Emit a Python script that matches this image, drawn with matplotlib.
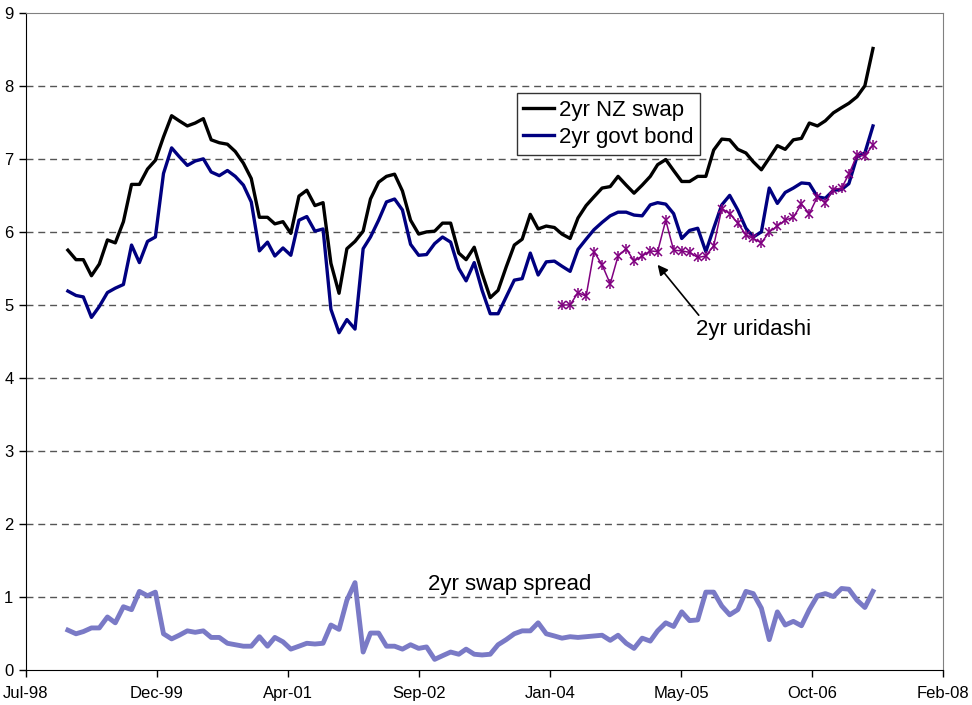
import datetime as dt

import matplotlib.dates as mdates
import matplotlib.pyplot as plt
import numpy as np

plt.rcParams["font.family"] = ["Liberation Sans", "DejaVu Sans"]

# month-end observations, Dec-98 .. May-07
DATES = (np.arange("1999-01", "2007-07", dtype="datetime64[M]").astype("datetime64[D]")
         - np.timedelta64(1, "D")).astype(dt.datetime)

SWAP = [5.75, 5.62, 5.62, 5.40, 5.56, 5.89, 5.85, 6.14, 6.65, 6.65,
        6.86, 6.98, 7.30, 7.59, 7.52, 7.45, 7.49, 7.55, 7.26, 7.22,
        7.20, 7.10, 6.94, 6.73, 6.20, 6.20, 6.11, 6.14, 5.98, 6.49,
        6.57, 6.36, 6.40, 5.57, 5.16, 5.77, 5.87, 6.01, 6.45, 6.68,
        6.76, 6.79, 6.56, 6.16, 5.97, 6.00, 6.01, 6.12, 6.12, 5.71,
        5.62, 5.79, 5.43, 5.10, 5.20, 5.52, 5.82, 5.90, 6.24, 6.04,
        6.08, 6.06, 5.97, 5.91, 6.19, 6.36, 6.48, 6.60, 6.62, 6.76,
        6.64, 6.53, 6.64, 6.76, 6.92, 6.99, 6.84, 6.69, 6.69, 6.76,
        6.76, 7.12, 7.27, 7.26, 7.13, 7.08, 6.96, 6.85, 7.01, 7.18,
        7.13, 7.26, 7.28, 7.49, 7.45, 7.52, 7.63, 7.70, 7.76, 7.85,
        8.00, 8.51]

GOVT = [5.19, 5.13, 5.11, 4.83, 4.98, 5.17, 5.23, 5.28, 5.82, 5.58,
        5.87, 5.93, 6.80, 7.15, 7.03, 6.91, 6.97, 7.00, 6.82, 6.77,
        6.84, 6.76, 6.64, 6.41, 5.74, 5.86, 5.67, 5.78, 5.68, 6.16,
        6.21, 6.01, 6.04, 4.94, 4.62, 4.80, 4.67, 5.77, 5.93, 6.16,
        6.41, 6.45, 6.30, 5.83, 5.68, 5.69, 5.84, 5.93, 5.86, 5.50,
        5.33, 5.58, 5.20, 4.88, 4.88, 5.11, 5.34, 5.36, 5.71, 5.41,
        5.59, 5.60, 5.53, 5.46, 5.76, 5.90, 6.03, 6.13, 6.22, 6.27,
        6.27, 6.23, 6.22, 6.37, 6.40, 6.38, 6.25, 5.91, 6.02, 6.05,
        5.73, 6.05, 6.37, 6.50, 6.30, 6.05, 5.93, 6.00, 6.60, 6.39,
        6.54, 6.60, 6.67, 6.66, 6.48, 6.46, 6.57, 6.58, 6.66, 7.03,
        7.08, 7.45]

SPREAD = [0.55, 0.50, 0.53, 0.58, 0.58, 0.73, 0.65, 0.87, 0.83, 1.08,
          1.02, 1.07, 0.50, 0.43, 0.48, 0.54, 0.52, 0.54, 0.45, 0.45,
          0.37, 0.35, 0.33, 0.33, 0.46, 0.33, 0.45, 0.39, 0.29, 0.33,
          0.37, 0.36, 0.37, 0.62, 0.56, 0.96, 1.20, 0.25, 0.51, 0.51,
          0.33, 0.33, 0.29, 0.35, 0.30, 0.32, 0.15, 0.20, 0.25, 0.22,
          0.29, 0.22, 0.21, 0.22, 0.35, 0.42, 0.50, 0.54, 0.54, 0.65,
          0.50, 0.47, 0.44, 0.46, 0.45, 0.46, 0.47, 0.48, 0.41, 0.48,
          0.37, 0.30, 0.44, 0.40, 0.54, 0.65, 0.60, 0.80, 0.68, 0.69,
          1.07, 1.07, 0.88, 0.76, 0.83, 1.08, 1.05, 0.85, 0.42, 0.80,
          0.62, 0.67, 0.61, 0.83, 1.02, 1.05, 1.01, 1.12, 1.11, 0.96,
          0.86, 1.08]

# uridashi series starts in Feb-04
URIDASHI_START = 62
URIDASHI = [5.00, 5.00, 5.17, 5.12, 5.73, 5.55, 5.29, 5.67, 5.77, 5.60,
            5.67, 5.74, 5.73, 6.16, 5.75, 5.74, 5.72, 5.65, 5.67, 5.81,
            6.32, 6.25, 6.12, 5.96, 5.91, 5.85, 6.00, 6.08, 6.16, 6.20,
            6.38, 6.25, 6.48, 6.40, 6.58, 6.60, 6.79, 7.05, 7.04, 7.19]

# Excel-style date axis: ticks every 500 days from serial 36000
TICK_SERIALS = list(range(36000, 39501, 500))


def excel_date(serial):
    return dt.datetime(1899, 12, 30) + dt.timedelta(days=serial)


def main():
    fig = plt.figure(figsize=(9.72, 7.05), dpi=100)
    ax = fig.add_axes([0.0267, 0.0492, 0.9434, 0.9328])

    ax.plot(DATES, SWAP, color="black", lw=2.4, label="2yr NZ swap", zorder=4)
    ax.plot(DATES, GOVT, color="#000080", lw=2.4, label="2yr govt bond", zorder=4)
    ax.plot(DATES, SPREAD, color="#7a7ac6", lw=3.5, zorder=3)

    u_dates = DATES[URIDASHI_START:URIDASHI_START + len(URIDASHI)]
    ax.plot(u_dates, URIDASHI, color="#800080", lw=1.1, marker="x",
            ms=6, mew=1.1, zorder=5)
    ax.plot(u_dates, URIDASHI, ls="none", color="#800080", marker="|",
            ms=7, mew=1.1, zorder=5)

    ax.set_xlim(excel_date(TICK_SERIALS[0]), excel_date(TICK_SERIALS[-1]))
    ax.set_ylim(0, 9)
    ax.set_xticks([excel_date(s) for s in TICK_SERIALS])
    ax.xaxis.set_major_formatter(mdates.DateFormatter("%b-%y"))
    ax.set_yticks(range(10))
    ax.tick_params(axis="both", labelsize=12, length=5, width=1, direction="out")
    ax.tick_params(axis="x", pad=6)
    ax.tick_params(axis="y", pad=4)

    for y in range(1, 9):
        ax.axhline(y, color="#555555", lw=1, dashes=(5, 3.5), zorder=1)

    for side in ("top", "right"):
        ax.spines[side].set_color("#808080")
    for side in ("left", "bottom"):
        ax.spines[side].set_color("black")

    leg = ax.legend(loc="upper left", bbox_to_anchor=(0.535, 0.878),
                    fontsize=16, frameon=True, fancybox=False,
                    handlelength=1.4, handletextpad=0.2, borderpad=0.3,
                    labelspacing=0.3, borderaxespad=0)
    leg.get_frame().set_edgecolor("black")
    leg.get_frame().set_linewidth(1)

    ax.text(excel_date(37847), 1.18, "2yr swap spread", fontsize=16,
            ha="center", va="center")
    ax.text(excel_date(38778), 4.66, "2yr uridashi", fontsize=16,
            ha="center", va="center")
    ax.annotate("", xy=(excel_date(38411), 5.55), xytext=(excel_date(38568), 4.86),
                arrowprops=dict(arrowstyle="-|>", color="black", lw=1.2,
                                mutation_scale=15, shrinkA=0, shrinkB=0))

    fig.savefig("out.png", dpi=100)
    plt.close(fig)


if __name__ == "__main__":
    main()
